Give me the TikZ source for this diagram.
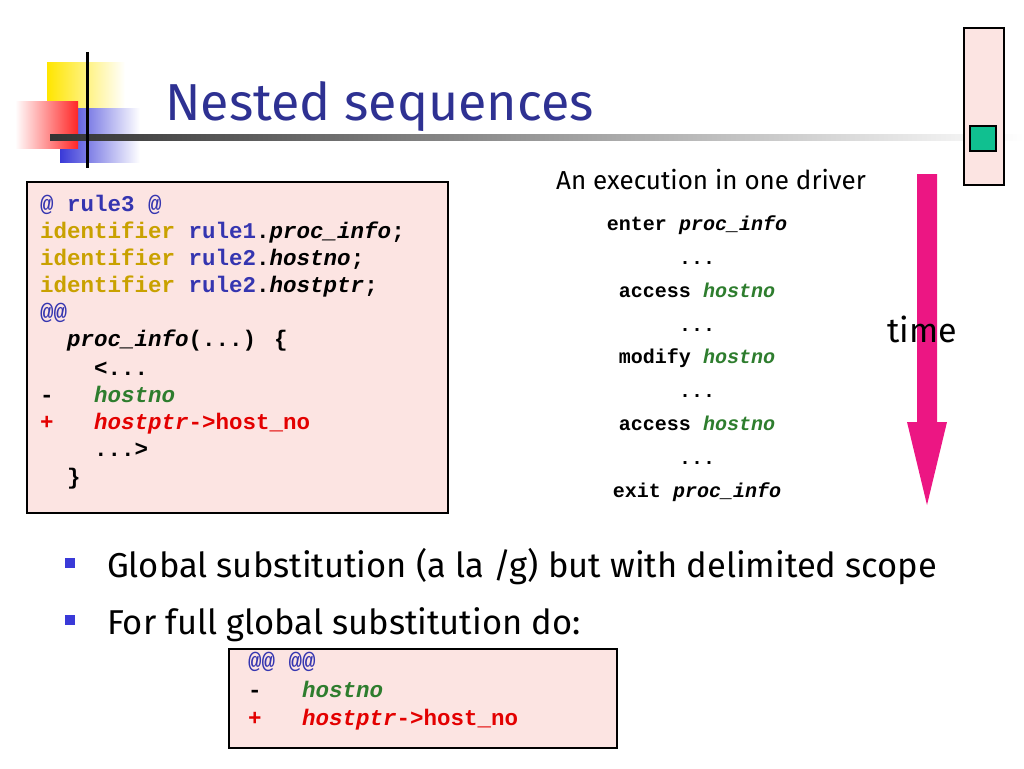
\documentclass[tikz,border=0pt]{standalone}
\usepackage{fontspec}
\setmainfont{Fira Sans}
\newfontfamily\cmono{Liberation Mono}
\newfontfamily\ttl{Fira Sans}
\usetikzlibrary{fadings,shapes.arrows}
\definecolor{ttlblue}{HTML}{2E3192}
\definecolor{kwgold}{HTML}{C9A100}
\definecolor{kwblue}{HTML}{3535B0}
\definecolor{kwgreen}{HTML}{2E7D2E}
\definecolor{kwred}{HTML}{E30000}
\definecolor{boxpink}{HTML}{FCE4E2}
\definecolor{arrowpink}{HTML}{EC1683}
\definecolor{bulblue}{HTML}{3A3AD8}
\definecolor{teal}{HTML}{10C090}
\tikzset{
 code/.style={anchor=base west, inner sep=0pt, font=\cmono\bfseries\fontsize{22.5}{22.5}\selectfont},
 exe/.style={anchor=base, inner sep=0pt, font=\cmono\bfseries\fontsize{20}{20}\selectfont},
 codebox/.style={draw=black, line width=2.6pt, fill=boxpink},
 bul/.style={anchor=base west, inner sep=0pt, font=\fontsize{34.5}{34.5}\selectfont},
}
\newcommand{\gr}[1]{\textcolor{kwgreen}{\itshape #1}}
\newcommand{\rd}[1]{\textcolor{kwred}{#1}}
\begin{document}
\begin{tikzpicture}[x=1pt,y=-1pt]
\useasboundingbox (0,0) rectangle (1024,768);
% decoration
\fill[left color=yellow!80!orange, right color=white] (47,62) rectangle (125,108);
\fill[left color=bulblue, right color=white] (60,108) rectangle (140,162);
\fill[left color=white, right color=red!85] (15,101) rectangle (78,148);
\shade[left color=black!80, right color=white] (50,134) rectangle (1024,140);
\draw[line width=3pt] (87,52) -- (87,168);
\node[anchor=base west, inner sep=0, text=ttlblue, font=\ttl\fontsize{52}{52}\selectfont] (title) at (165,120) {Nested sequences};
% right top box
\draw[line width=2.4pt, fill=boxpink] (964,28) rectangle (1004,185);
\draw[line width=2.4pt, fill=teal] (970,126) rectangle (996,151);
% code box
\draw[codebox] (27,182) rectangle (448,513);
\node[code] (l1) at (40,211) {\textcolor{kwblue}{@ rule3 @}};
\node[code] (l2) at (40,238) {\textcolor{kwgold}{identifier} \textcolor{kwblue}{rule1}.\textit{proc\_info};};
\node[code] (l3) at (40,265) {\textcolor{kwgold}{identifier} \textcolor{kwblue}{rule2}.\textit{hostno};};
\node[code] (l4) at (40,292) {\textcolor{kwgold}{identifier} \textcolor{kwblue}{rule2}.\textit{hostptr};};
\node[code] (l5) at (40,319) {\textcolor{kwblue}{@@}};
\node[code] (l6) at (40,346) {\ \ \textit{proc\_info}(...) \{};
\node[code] (l7) at (40,375) {\ \ \ \ <...};
\node[code] (l8) at (40,402) {-\ \ \ \gr{hostno}};
\node[code] (l9) at (40,429) {\rd{+\ \ \ \textit{hostptr}->host\_no}};
\node[code] (l10) at (40,456) {\ \ \ \ ...>};
\node[code] (l11) at (40,484) {\ \ \}};
% execution
\node[anchor=base, inner sep=0, font=\fontsize{26}{26}\selectfont] (hdr) at (711,189) {An execution in one driver};
\node[exe] (e1) at (697,230) {enter \textit{proc\_info}};
\node[exe] (e2) at (697,264) {...};
\node[exe] (e3) at (697,297) {access \gr{hostno}};
\node[exe] (e4) at (697,331) {...};
\node[exe] (e5) at (697,363) {modify \gr{hostno}};
\node[exe] (e6) at (697,397) {...};
\node[exe] (e7) at (697,430) {access \gr{hostno}};
\node[exe] (e8) at (697,464) {...};
\node[exe] (e9) at (697,497) {exit \textit{proc\_info}};
% time arrow
\fill[arrowpink] (917,174) -- (937,174) -- (937,422) -- (947,422) -- (927,505) -- (907,422) -- (917,422) -- cycle;
\node[anchor=base, inner sep=0, font=\fontsize{34}{34}\selectfont] (time) at (922,342) {time};
% bullets
\fill[bulblue] (65,558) rectangle (75,568);
\node[bul] (b1) at (107,577) {Global substitution (a la /g) but with delimited scope};
\fill[bulblue] (65,615) rectangle (75,625);
\node[bul] (b2) at (107,634) {For full global substitution do:};
% small box
\draw[codebox] (229,649) rectangle (617,748);
\node[code] (s1) at (248,668) {\textcolor{kwblue}{@@ @@}};
\node[code] (s2) at (248,697) {-\ \ \ \gr{hostno}};
\node[code] (s3) at (248,725) {\rd{+\ \ \ \textit{hostptr}->host\_no}};
\end{tikzpicture}
\end{document}
